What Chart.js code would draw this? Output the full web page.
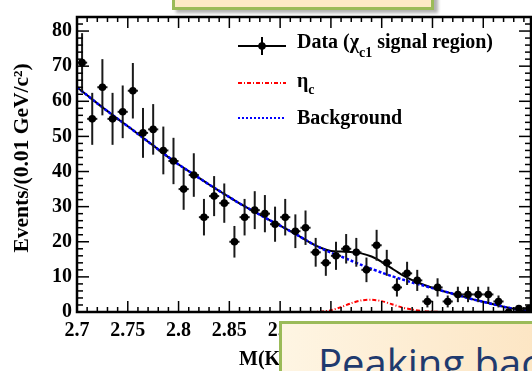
<!DOCTYPE html>
<html><head><meta charset="utf-8">
<script src="https://cdn.jsdelivr.net/npm/chart.js@4/dist/chart.umd.min.js"></script>
<style>
html,body{margin:0;padding:0;background:#fff;}
#wrap{position:relative;width:532px;height:371px;overflow:hidden;background:#fff;}
#c{position:absolute;left:0;top:0;}
#topbox{position:absolute;left:172px;top:-40px;width:262px;height:50px;box-sizing:border-box;border:3px solid #9BBB59;background:#FDEAC6;box-shadow:4px 3px 3px rgba(0,0,0,0.3);}
#botbox{position:absolute;left:279px;top:321px;width:300px;height:90px;box-sizing:border-box;border:3px solid #9BBB59;background:linear-gradient(90deg,#FEF5E3,#FCE3BF);}
#botbox span{position:absolute;left:36px;top:19px;font-family:"Open Sans",sans-serif;font-size:40px;line-height:1;color:#1F3A6E;white-space:nowrap;}
</style></head>
<body>
<div id="wrap">
<canvas id="c" width="532" height="371"></canvas>
<div id="topbox"></div>
<div id="botbox"><span>Peaking background</span></div>
</div>
<script>
// ---- data ----
const binCenters = [2.705,2.715,2.725,2.735,2.745,2.755,2.765,2.775,2.785,2.795,
  2.805,2.815,2.825,2.835,2.845,2.855,2.865,2.875,2.885,2.895,
  2.905,2.915,2.925,2.935,2.945,2.955,2.965,2.975,2.985,2.995,
  3.005,3.015,3.025,3.035,3.045,3.055,3.065,3.075,3.085,3.095,
  3.105,3.115,3.125,3.135,3.145];
const counts = [71,55,64,55,57,63,51,52,46,43,
  35,39,27,33,31,20,27,29,28,25,
  27,23,24,17,14,16,18,17,12,19,
  14,7,11,9,3,7,3,5,5,5,
  5,3,0,1,1];
const errors = [8.4,7.4,8.0,7.4,7.5,7.9,7.1,7.2,6.8,6.6,
  5.9,6.2,5.2,5.7,5.6,4.5,5.2,5.4,5.3,5.0,
  5.2,4.8,4.9,4.1,3.7,4.0,4.2,4.1,3.5,4.4,
  3.7,2.6,3.3,3.0,1.7,2.6,1.7,2.2,2.2,2.2,
  2.2,1.7,0,1.0,1.0];
const fitMass = [2.70,2.71,2.72,2.73,2.74,2.75,2.76,2.77,2.78,2.79,
  2.80,2.81,2.82,2.83,2.84,2.85,2.86,2.87,2.88,2.89,
  2.90,2.91,2.92,2.93,2.94,2.95,2.96,2.97,2.98,2.99,
  3.00,3.01,3.02,3.03,3.04,3.05,3.06,3.07,3.08,3.09,
  3.10,3.11,3.12,3.13,3.14,3.15];
const bkgCurve = [64.0,61.7,59.4,57.2,55.0,52.9,50.7,48.5,46.3,44.1,
  42.0,40.1,38.2,36.3,34.5,32.7,30.9,29.3,27.7,26.1,
  24.6,23.0,21.4,19.7,18.2,16.9,15.8,14.6,13.4,12.3,
  11.2,10.2,9.3,8.4,7.6,6.8,6.0,5.2,4.4,3.6,
  2.9,2.2,1.5,0.9,0.4,0.1];
const etacCurve = [0,0,0,0,0,0,0,0,0,0,
  0,0,0,0,0,0,0,0,0,0,
  0,0,0,0,0.1,0.5,1.4,2.5,3.3,3.5,
  3.1,2.2,1.3,0.7,0.3,0.1,0,0,0,0,
  0,0,0,0,0,0];
const totalCurve = [64.0,61.7,59.4,57.2,55.0,52.9,50.7,48.5,46.3,44.1,
  42.0,40.1,38.2,36.3,34.5,32.7,30.9,29.3,27.7,26.1,
  24.6,23.0,21.4,19.7,18.3,17.4,17.2,17.1,16.7,15.8,
  14.3,12.4,10.6,9.1,7.9,6.9,6.0,5.2,4.4,3.6,
  2.9,2.2,1.5,0.9,0.4,0.1];
const xTickValues = [2.7,2.75,2.8,2.85,2.9,2.95,3.0,3.05,3.1];
const yTickValues = [0,10,20,30,40,50,60,70,80];

const SERIF = '"Liberation Serif","Times New Roman",serif';
const pts = (xs, ys) => xs.map((v, i) => ({x: v, y: ys[i]}));

const deco = {
  id: 'deco',
  afterDatasetsDraw(chart) {
    const {ctx, chartArea: a, scales: {x, y}} = chart;
    ctx.save();
    ctx.beginPath(); ctx.rect(a.left, a.top, a.right - a.left, a.bottom - a.top); ctx.clip();
    ctx.strokeStyle = '#1a1a1a'; ctx.lineWidth = 2;
    binCenters.forEach((m, i) => {
      const px = x.getPixelForValue(m), py = y.getPixelForValue(counts[i]);
      const e = errors[i];
      if (e > 0) {
        ctx.beginPath();
        ctx.moveTo(px, y.getPixelForValue(counts[i] + e));
        ctx.lineTo(px, y.getPixelForValue(Math.max(0, counts[i] - e)));
        ctx.stroke();
      }
      ctx.beginPath();
      ctx.moveTo(x.getPixelForValue(m - 0.005), py);
      ctx.lineTo(x.getPixelForValue(m + 0.005), py);
      ctx.stroke();
      ctx.fillStyle = '#000';
      ctx.beginPath(); ctx.arc(px, py, 3.8, 0, Math.PI * 2); ctx.fill();
    });
    ctx.restore();
  },
  afterDraw(chart) {
    const {ctx, chartArea: a, scales: {x, y}} = chart;
    const line = (x1, y1, x2, y2) => { ctx.beginPath(); ctx.moveTo(x1, y1); ctx.lineTo(x2, y2); ctx.stroke(); };
    ctx.save();
    ctx.strokeStyle = '#000';
    ctx.lineWidth = 2.5;
    ctx.strokeRect(a.left, a.top, a.right - a.left, a.bottom - a.top);
    ctx.lineWidth = 1.5;
    for (let v = 0; v <= y.max; v += 2) {
      const py = y.getPixelForValue(v);
      const L = v % 10 === 0 ? 12 : 6;
      line(a.left, py, a.left + L, py);
      line(a.right, py, a.right - L, py);
    }
    for (let k = 0; k <= 45; k++) {
      const m = 2.7 + k * 0.01;
      if (m > x.max + 1e-9) break;
      const px = x.getPixelForValue(m);
      const L = k % 5 === 0 ? 11 : 5;
      line(px, a.bottom, px, a.bottom - L);
      line(px, a.top, px, a.top + L);
    }
    // legend
    ctx.lineWidth = 2;
    ctx.strokeStyle = '#000';
    line(238, 46, 286, 46);
    line(262, 37, 262, 55);
    ctx.fillStyle = '#000';
    ctx.beginPath(); ctx.arc(262, 46, 3.8, 0, Math.PI * 2); ctx.fill();
    ctx.strokeStyle = '#ff0000'; ctx.setLineDash([4, 2, 1, 2]);
    line(238, 83, 286, 83);
    ctx.strokeStyle = '#0000ff'; ctx.setLineDash([2, 2]);
    line(238, 118, 286, 118);
    ctx.setLineDash([]);
    ctx.textBaseline = 'alphabetic'; ctx.textAlign = 'left';
    const big = 'bold 20px ' + SERIF, small = 'bold 14px ' + SERIF;
    let tx = 297;
    ctx.font = big; ctx.fillText('Data (\u03c7', tx, 48); tx += ctx.measureText('Data (\u03c7').width;
    ctx.font = small; ctx.fillText('c1', tx, 57); tx += ctx.measureText('c1').width;
    ctx.font = big; ctx.fillText(' signal region)', tx, 48);
    tx = 297;
    ctx.font = big; ctx.fillText('\u03b7', tx, 87); tx += ctx.measureText('\u03b7').width;
    ctx.font = small; ctx.fillText('c', tx, 94);
    ctx.font = big; ctx.fillText('Background', 297, 124);
    // axis titles
    ctx.font = big;
    ctx.fillText('M(K\u2070\u209bK\u207a\u03c0\u207b) (GeV/c\u00b2)', 239, 365);
    ctx.save();
    ctx.font = 'bold 21.5px ' + SERIF;
    ctx.translate(28, 158); ctx.rotate(-Math.PI / 2);
    ctx.textAlign = 'center';
    ctx.fillText('Events/(0.01 GeV/c\u00b2)', 0, 0);
    ctx.restore();
    ctx.restore();
  }
};

new Chart(document.getElementById('c'), {
  type: 'scatter',
  data: {
    datasets: [
      {label: 'Data', data: pts(binCenters, counts), pointRadius: 0, showLine: false, order: 0},
      {label: 'Background', data: pts(fitMass, bkgCurve), showLine: true, pointRadius: 0,
        borderColor: '#0000ff', borderWidth: 2.5, borderDash: [3, 2], tension: 0.3, order: 1},
      {label: 'Total', data: pts(fitMass, totalCurve), showLine: true, pointRadius: 0,
        borderColor: '#000', borderWidth: 2, tension: 0.3, order: 2},
      {label: '\u03b7c', data: pts(fitMass, etacCurve), showLine: true, pointRadius: 0,
        borderColor: '#ff0000', borderWidth: 2, borderDash: [4, 2, 1, 2], tension: 0.3, order: 3}
    ]
  },
  options: {
    responsive: false, animation: false, events: [],
    layout: {padding: {top: 12, right: 1, left: 0, bottom: 0}},
    plugins: {legend: {display: false}, tooltip: {enabled: false}},
    scales: {
      x: {
        type: 'linear', min: 2.7, max: 3.147,
        grid: {display: false, drawTicks: false}, border: {display: false},
        afterBuildTicks: s => { s.ticks = xTickValues.map(v => ({value: v})); },
        afterFit: s => { s.height = 59; },
        ticks: {padding: 7, color: '#000', maxRotation: 0, autoSkip: false,
          font: {family: SERIF, weight: 'bold', size: 20},
          callback: v => String(+v.toFixed(2))}
      },
      y: {
        type: 'linear', min: 0, max: 84,
        grid: {display: false, drawTicks: false}, border: {display: false},
        afterBuildTicks: s => { s.ticks = yTickValues.map(v => ({value: v})); },
        afterFit: s => { s.width = 77; },
        ticks: {padding: 5, color: '#000', font: {family: SERIF, weight: 'bold', size: 20}}
      }
    }
  },
  plugins: [deco]
});
</script>
</body></html>
